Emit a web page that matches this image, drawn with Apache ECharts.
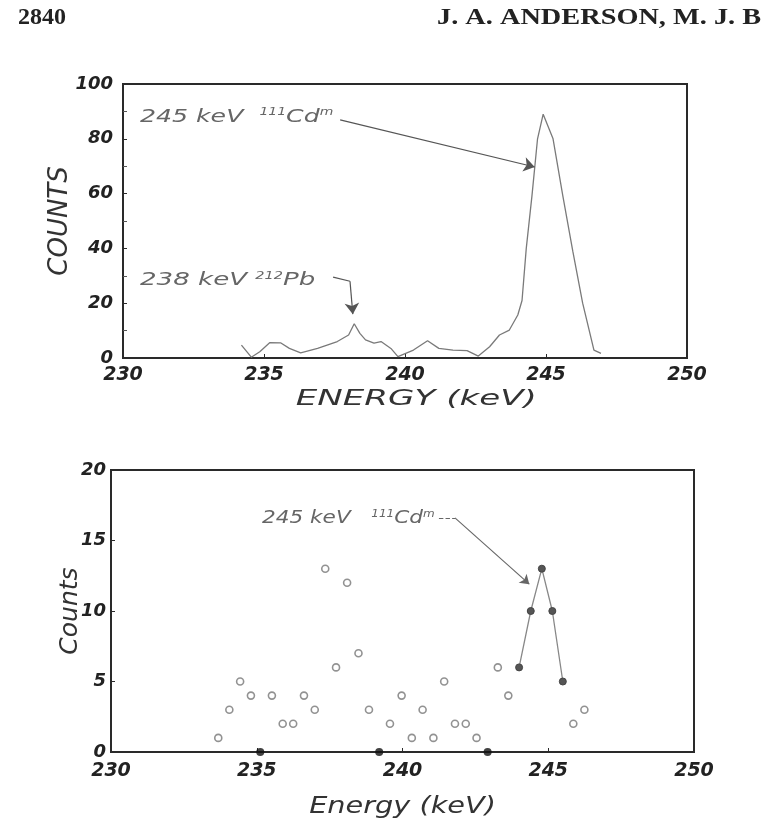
<!DOCTYPE html>
<html>
<head>
<meta charset="utf-8">
<script src="https://cdn.jsdelivr.net/npm/echarts@6/dist/echarts.min.js"></script>
<style>
html,body{margin:0;padding:0;background:#fff;}
#chart{width:762px;height:821px;}
</style>
</head>
<body>
<div id="chart"></div>
<script>
// ---- Data ----
// Upper panel: spectrum trace
var topEnergy = [234.2, 234.55, 234.85, 235.2, 235.6, 235.9, 236.3, 236.9, 237.6, 238.0, 238.2, 238.4, 238.6, 238.9, 239.15, 239.5, 239.75, 240.3, 240.8, 241.2, 241.7, 242.2, 242.6, 243.0, 243.35, 243.7, 244.0, 244.15, 244.3, 244.5, 244.7, 244.9, 245.25, 245.6, 245.95, 246.3, 246.7, 246.95];
var topCounts = [4.7, 0.3, 2.3, 5.6, 5.5, 3.5, 1.9, 3.5, 6, 8.4, 12.5, 9, 6.6, 5.4, 6, 3.5, 0.5, 2.9, 6.3, 3.5, 2.9, 2.7, 0.7, 4.1, 8.4, 10.2, 15.7, 21, 40, 59, 80, 89, 80, 59, 39, 20, 2.9, 1.7];

// Lower panel: open circles
var lowEnergy = [233.68, 234.06, 234.43, 234.8, 235.52, 235.89, 236.25, 236.62, 236.99, 237.35, 237.72, 238.1, 238.49, 238.85, 239.57, 239.97, 240.32, 240.69, 241.06, 241.43, 241.8, 242.17, 242.54, 243.27, 243.63, 245.86, 246.24];
var lowCounts  = [1, 3, 5, 4, 4, 2, 2, 4, 3, 13, 6, 12, 7, 3, 2, 4, 1, 3, 1, 5, 2, 2, 1, 6, 4, 2, 3];
// Lower panel: points joined by the peak line
var peakEnergy = [244.0, 244.4, 244.78, 245.14, 245.5];
var peakCounts = [6, 10, 13, 10, 5];
// Lower panel: zero-count filled points
var zeroEnergy = [235.12, 239.2, 242.92];
var zeroCounts = [0, 0, 0];

// Axis ticks
var xMin = 230, xMax = 250, xStep = 5;
var topYMax = 100, topYStep = 20;
var lowYMax = 20, lowYStep = 5;

function zip(a, b) { return a.map(function (v, i) { return [v, b[i]]; }); }

var FONT = 'DejaVu Sans';
var tickLabel = {fontFamily: FONT, fontStyle: 'italic', fontWeight: 'bold', fontSize: 18, color: '#222'};
var boxColor = '#2a2a2a';

var chart = echarts.init(document.getElementById('chart'), null, {renderer: 'canvas', width: 762, height: 821});

var option = {
  backgroundColor: '#ffffff',
  animation: false,
  grid: [
    {left: 123, top: 84, width: 564, height: 274, show: true, borderColor: boxColor, borderWidth: 2, backgroundColor: 'transparent'},
    {left: 111, top: 470, width: 583, height: 282, show: true, borderColor: boxColor, borderWidth: 2, backgroundColor: 'transparent'}
  ],
  xAxis: [
    {
      type: 'value', gridIndex: 0, min: xMin, max: xMax, interval: xStep,
      axisLine: {lineStyle: {color: boxColor, width: 2}},
      axisTick: {inside: true, length: 4, lineStyle: {color: boxColor}},
      axisLabel: Object.assign({margin: 8}, tickLabel, {fontSize: 19}),
      splitLine: {show: false}
    },
    {
      type: 'value', gridIndex: 1, min: xMin, max: xMax, interval: xStep,
      axisLine: {lineStyle: {color: boxColor, width: 2}},
      axisTick: {inside: true, length: 4, lineStyle: {color: boxColor}},
      axisLabel: Object.assign({margin: 10}, tickLabel, {fontSize: 19}),
      splitLine: {show: false}
    }
  ],
  yAxis: [
    {
      type: 'value', gridIndex: 0, min: 0, max: topYMax, interval: topYStep,
      axisLine: {lineStyle: {color: boxColor, width: 2}},
      axisTick: {inside: true, length: 4, lineStyle: {color: boxColor}},
      minorTick: {show: true, splitNumber: 2, length: 4, lineStyle: {color: '#555'}},
      axisLabel: Object.assign({margin: 10}, tickLabel),
      splitLine: {show: false},
      name: 'COUNTS', nameLocation: 'middle', nameGap: 50, nameRotate: 90, nameMoveOverlap: false,
      nameTextStyle: {fontFamily: FONT, fontStyle: 'italic', fontSize: 26, color: '#333'}
    },
    {
      type: 'value', gridIndex: 1, min: 0, max: lowYMax, interval: lowYStep,
      axisLine: {lineStyle: {color: boxColor, width: 2}},
      axisTick: {inside: true, length: 4, lineStyle: {color: boxColor}},
      axisLabel: Object.assign({margin: 5}, tickLabel),
      splitLine: {show: false},
      name: 'Counts', nameLocation: 'middle', nameGap: 28, nameRotate: 90, nameMoveOverlap: false,
      nameTextStyle: {fontFamily: FONT, fontStyle: 'italic', fontSize: 25, color: '#333'}
    }
  ],
  series: [
    {
      type: 'line', xAxisIndex: 0, yAxisIndex: 0,
      data: zip(topEnergy, topCounts),
      showSymbol: false, symbol: 'none',
      lineStyle: {color: '#7a7a7a', width: 1.3},
      markLine: {
        silent: true, animation: false,
        label: {show: false},
        lineStyle: {color: '#555', width: 1.2, type: 'solid'},
        symbolSize: 11,
        data: [
          [{coord: [237.7, 86.9], symbol: 'none'}, {coord: [244.6, 69.7], symbol: 'arrow'}],
          [{coord: [237.45, 29.5], symbol: 'none'}, {coord: [238.05, 28.0], symbol: 'none'}],
          [{coord: [238.05, 28.0], symbol: 'none'}, {coord: [238.15, 16.0], symbol: 'arrow'}]
        ]
      }
    },
    {
      type: 'scatter', xAxisIndex: 1, yAxisIndex: 1,
      data: zip(lowEnergy, lowCounts),
      symbol: 'circle', symbolSize: 7,
      itemStyle: {color: '#ffffff', borderColor: '#777', borderWidth: 1.6}
    },
    {
      type: 'line', xAxisIndex: 1, yAxisIndex: 1,
      data: zip(peakEnergy, peakCounts),
      symbol: 'circle', symbolSize: 7, showSymbol: true,
      itemStyle: {color: '#555', borderColor: '#444', borderWidth: 1},
      lineStyle: {color: '#888', width: 1.3},
      markLine: {
        silent: true, animation: false,
        label: {show: false},
        lineStyle: {color: '#666', width: 1.1, type: 'solid'},
        symbolSize: 9,
        data: [
          [{coord: [241.25, 16.6], symbol: 'none', lineStyle: {type: 'dashed'}}, {coord: [241.8, 16.6], symbol: 'none'}],
          [{coord: [241.8, 16.6], symbol: 'none'}, {coord: [244.35, 11.9], symbol: 'arrow'}]
        ]
      }
    },
    {
      type: 'scatter', xAxisIndex: 1, yAxisIndex: 1,
      data: zip(zeroEnergy, zeroCounts),
      symbol: 'circle', symbolSize: 8,
      itemStyle: {color: '#111'}
    }
  ]
};
chart.setOption(option);

function px(gi, x, y) { return chart.convertToPixel({gridIndex: gi}, [x, y]); }

var annoStyle = function (txt) {
  return {
    text: txt,
    fill: '#666',
    fontFamily: FONT, fontStyle: 'italic', fontSize: 18,
    align: 'left', verticalAlign: 'middle',
    rich: {
      b: {fontFamily: FONT, fontStyle: 'italic', fontSize: 18, fill: '#666', color: '#666'},
      s: {fontFamily: FONT, fontStyle: 'italic', fontSize: 10, fill: '#666', color: '#666', verticalAlign: 'top', padding: [0, 0, 6, 0]}
    }
  };
};

var a1 = px(0, 230.6, 88);
var a2 = px(0, 230.6, 28.5);
var a3 = px(1, 235.18, 16.6);
var t1 = px(0, 240.4, 0);   // x-axis title anchor (upper)
var t2 = px(1, 240.0, 0);   // x-axis title anchor (lower)

chart.setOption({
  graphic: [
    {type: 'text', x: 18, y: 6, style: {text: '2840', fontFamily: 'Liberation Serif', fontWeight: 'bold', fontSize: 24, fill: '#222'}},
    {type: 'text', x: 437, y: 6, scaleX: 1.18, style: {text: 'J. A. ANDERSON, M. J. B', fontFamily: 'Liberation Serif', fontWeight: 'bold', fontSize: 24, fill: '#222'}},
    {type: 'text', x: a1[0], y: a1[1], scaleX: 1.4, style: annoStyle('{b|245 keV  }{s|111}{b|Cd}{s|m}')},
    {type: 'text', x: a2[0], y: a2[1], scaleX: 1.45, style: annoStyle('{b|238 keV }{s|212}{b|Pb}')},
    {type: 'text', x: a3[0], y: a3[1], scaleX: 1.2, style: annoStyle('{b|245 keV   }{s|111}{b|Cd}{s|m}')},
    {type: 'text', x: t1[0], y: t1[1] + 41, scaleX: 1.55, style: {text: 'ENERGY (keV)', fontFamily: FONT, fontStyle: 'italic', fontSize: 22, fill: '#333', align: 'center', verticalAlign: 'middle'}},
    {type: 'text', x: t2[0], y: t2[1] + 55, scaleX: 1.25, style: {text: 'Energy (keV)', fontFamily: FONT, fontStyle: 'italic', fontSize: 23, fill: '#333', align: 'center', verticalAlign: 'middle'}}
  ]
});
</script>
</body>
</html>
